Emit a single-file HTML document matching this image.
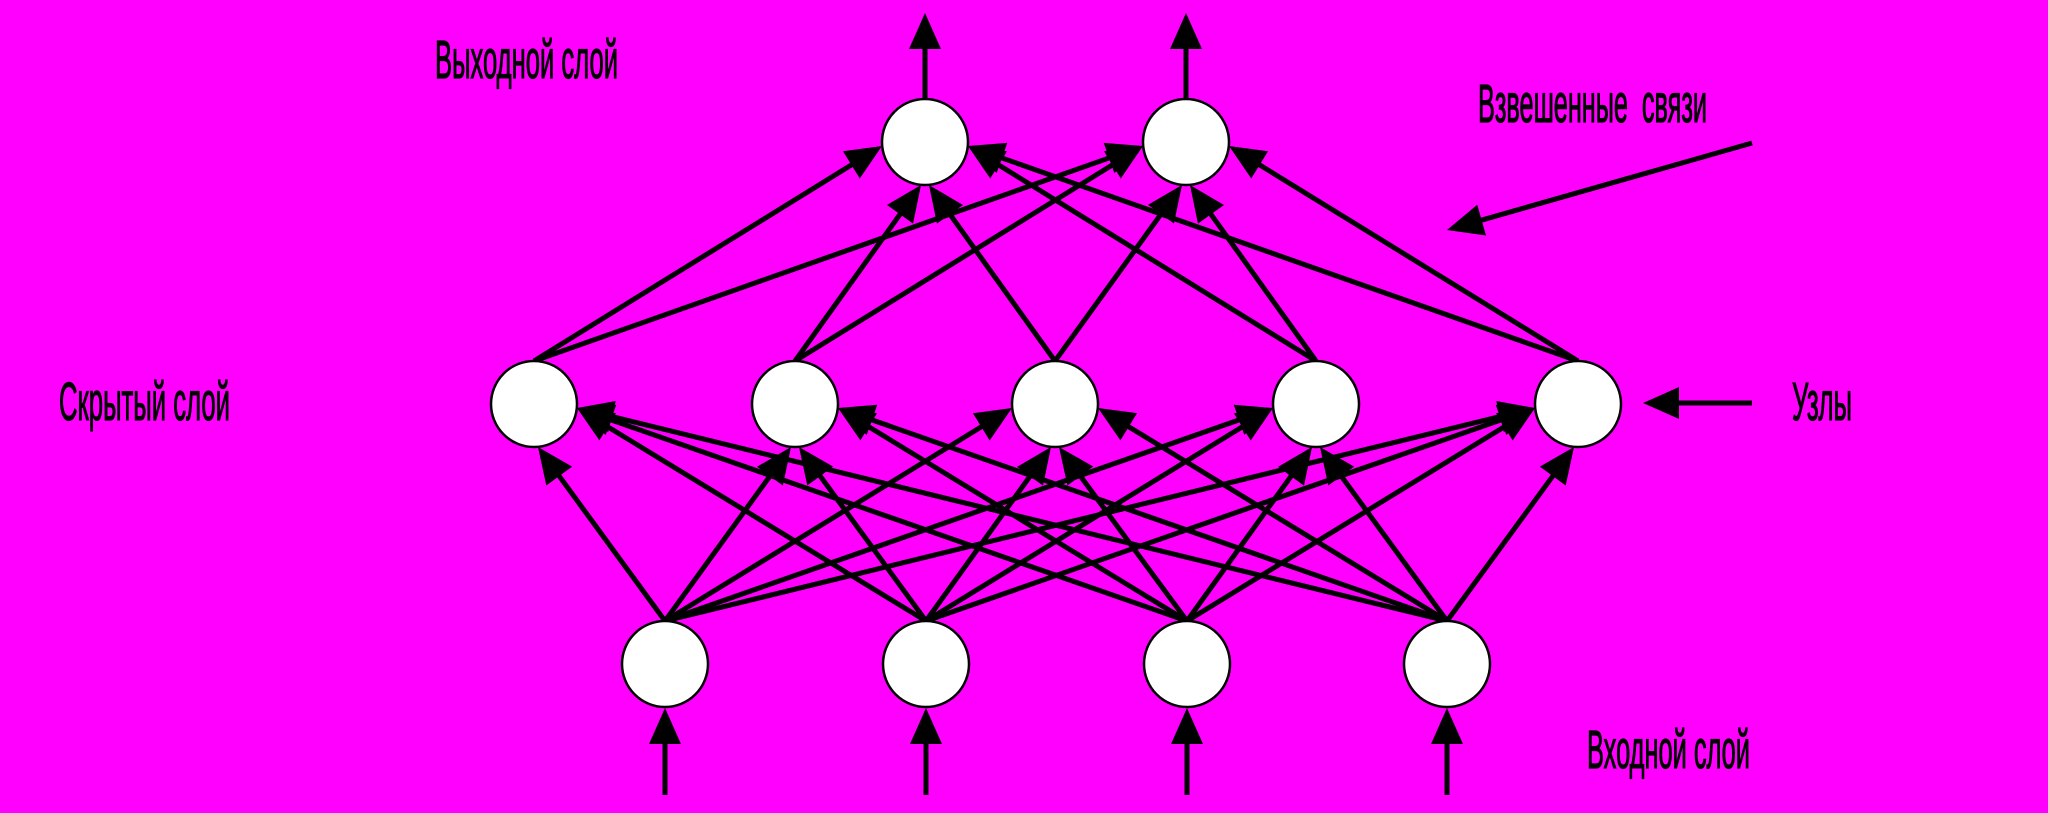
<!DOCTYPE html>
<html><head><meta charset="utf-8"><style>
html,body{margin:0;padding:0;background:#ff00ff;}
svg{display:block;}
text{font-family:"Liberation Sans","DejaVu Sans",sans-serif;font-size:54px;fill:#000;stroke:#000;stroke-width:1.2;}
</style></head><body>
<svg id="s" width="2048" height="813" viewBox="0 0 2048 813" xmlns="http://www.w3.org/2000/svg">
<rect width="2048" height="813" fill="#ff00ff"/>
<g id="lines"></g>
<g id="nodes"></g>
<text x="435" y="78" textLength="183" lengthAdjust="spacingAndGlyphs">Выходной слой</text>
<text x="1478" y="122" textLength="229" lengthAdjust="spacingAndGlyphs" xml:space="preserve">Взвешенные  связи</text>
<text x="59" y="420" textLength="171" lengthAdjust="spacingAndGlyphs">Скрытый слой</text>
<text x="1792" y="420" textLength="60" lengthAdjust="spacingAndGlyphs">Узлы</text>
<text x="1587" y="768" textLength="163" lengthAdjust="spacingAndGlyphs">Входной слой</text>
</svg>
<script>
var NS="http://www.w3.org/2000/svg",R=43;
var out=[[925,142],[1186,142]];
var hid=[[534,404],[795,404],[1055,404],[1316,404],[1578,404]];
var inp=[[665,664],[926,664],[1187,664],[1447,664]];
var L=document.getElementById("lines"),N=document.getElementById("nodes");
function el(t,a,p){var e=document.createElementNS(NS,t);for(var k in a)e.setAttribute(k,a[k]);p.appendChild(e);return e;}
function arrow(x1,y1,x2,y2){
 var dx=x2-x1,dy=y2-y1,d=Math.hypot(dx,dy),ux=dx/d,uy=dy/d,len=36,w=16;
 var bx=x2-ux*len,by=y2-uy*len;
 el("line",{x1:x1,y1:y1,x2:bx+ux*2,y2:by+uy*2,stroke:"#000","stroke-width":5},L);
 el("polygon",{points:x2+","+y2+" "+(bx-uy*w)+","+(by+ux*w)+" "+(bx+uy*w)+","+(by-ux*w),fill:"#000"},L);
}
function conn(s,t){
 var x1=s[0],y1=s[1]-R,dx=t[0]-x1,tx,ty;
 if(Math.abs(dx)<150){tx=t[0]-(dx>0?4:-4);ty=t[1]+R;}
 else if(dx>0){tx=t[0]-R;ty=t[1]+4;}
 else{tx=t[0]+R;ty=t[1]+4;}
 arrow(x1,y1,tx,ty);
}
inp.forEach(function(s){hid.forEach(function(t){conn(s,t);});});
hid.forEach(function(s){out.forEach(function(t){conn(s,t);});});
out.forEach(function(o){arrow(o[0],o[1]-R,o[0],13);});
inp.forEach(function(o){arrow(o[0],795,o[0],o[1]+R+1);});
arrow(1752,143,1447,230);
arrow(1752,403,1643,403);
out.concat(hid,inp).forEach(function(c){el("circle",{cx:c[0],cy:c[1],r:R,fill:"#fff",stroke:"#000","stroke-width":2.5},N);});
</script>
</body></html>
